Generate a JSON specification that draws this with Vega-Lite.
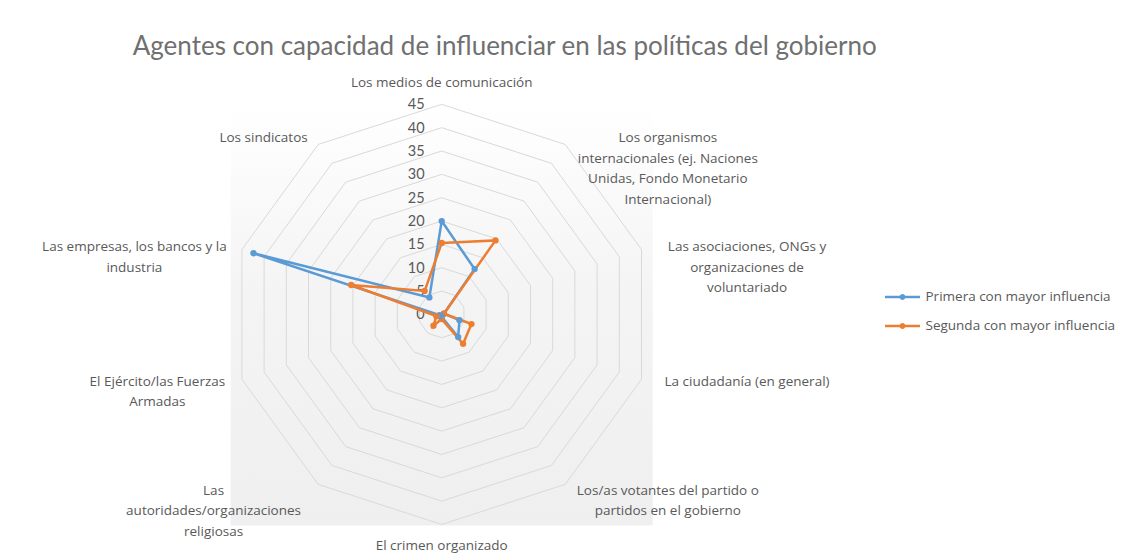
{
  "$schema": "https://vega.github.io/schema/vega-lite/v6.json",
  "width": 422,
  "height": 422,
  "autosize": {"type": "none"},
  "padding": {"left": 230.7, "top": 103.4, "right": 477.3, "bottom": 28.6},
  "background": "white",
  "config": {
    "view": {
      "stroke": null,
      "fill": {"gradient": "linear", "x1": 0, "y1": 0, "x2": 0, "y2": 1,
        "stops": [{"offset": 0, "color": "#ffffff"}, {"offset": 0.45, "color": "#f4f4f4"}, {"offset": 1, "color": "#efefef"}]}
    },
    "text": {"font": "Open Sans", "fontSize": 13.5, "color": "#595959", "lineHeight": 20.5, "lineBreak": "\n"}
  },
  "title": {
    "text": "Agentes con capacidad de influenciar en las políticas del gobierno",
    "font": "Lato", "fontSize": 26, "fontWeight": "normal", "color": "#707070",
    "anchor": "middle", "frame": "group", "dx": 63, "offset": 16
  },
  "datasets": {
    "main": [
      {"cat": "Los medios de comunicación", "serie": "Primera con mayor influencia", "v": 20},
      {"cat": "Los organismos\ninternacionales (ej. Naciones\nUnidas, Fondo Monetario\nInternacional)", "serie": "Primera con mayor influencia", "v": 12},
      {"cat": "Las asociaciones, ONGs y\norganizaciones de\nvoluntariado", "serie": "Primera con mayor influencia", "v": 0.5},
      {"cat": "La ciudadanía (en general)", "serie": "Primera con mayor influencia", "v": 4},
      {"cat": "Los/as votantes del partido o\npartidos en el gobierno", "serie": "Primera con mayor influencia", "v": 6},
      {"cat": "El crimen organizado", "serie": "Primera con mayor influencia", "v": 0.5},
      {"cat": "Las\nautoridades/organizaciones\nreligiosas", "serie": "Primera con mayor influencia", "v": 0.5},
      {"cat": "El Ejército/las Fuerzas\nArmadas", "serie": "Primera con mayor influencia", "v": 0.5},
      {"cat": "Las empresas, los bancos y la\nindustria", "serie": "Primera con mayor influencia", "v": 42.4},
      {"cat": "Los sindicatos", "serie": "Primera con mayor influencia", "v": 4.5},
      {"cat": "Los medios de comunicación", "serie": "Segunda con mayor influencia", "v": 15.3},
      {"cat": "Los organismos\ninternacionales (ej. Naciones\nUnidas, Fondo Monetario\nInternacional)", "serie": "Segunda con mayor influencia", "v": 19.6},
      {"cat": "Las asociaciones, ONGs y\norganizaciones de\nvoluntariado", "serie": "Segunda con mayor influencia", "v": 0.5},
      {"cat": "La ciudadanía (en general)", "serie": "Segunda con mayor influencia", "v": 6.7},
      {"cat": "Los/as votantes del partido o\npartidos en el gobierno", "serie": "Segunda con mayor influencia", "v": 7.8},
      {"cat": "El crimen organizado", "serie": "Segunda con mayor influencia", "v": 1},
      {"cat": "Las\nautoridades/organizaciones\nreligiosas", "serie": "Segunda con mayor influencia", "v": 3},
      {"cat": "El Ejército/las Fuerzas\nArmadas", "serie": "Segunda con mayor influencia", "v": 1.2},
      {"cat": "Las empresas, los bancos y la\nindustria", "serie": "Segunda con mayor influencia", "v": 20.4},
      {"cat": "Los sindicatos", "serie": "Segunda con mayor influencia", "v": 6.2}
    ],
    "grid": [
      {"level": 0, "k": [0,1,2,3,4,5,6,7,8,9]},
      {"level": 5, "k": [0,1,2,3,4,5,6,7,8,9]},
      {"level": 10, "k": [0,1,2,3,4,5,6,7,8,9]},
      {"level": 15, "k": [0,1,2,3,4,5,6,7,8,9]},
      {"level": 20, "k": [0,1,2,3,4,5,6,7,8,9]},
      {"level": 25, "k": [0,1,2,3,4,5,6,7,8,9]},
      {"level": 30, "k": [0,1,2,3,4,5,6,7,8,9]},
      {"level": 35, "k": [0,1,2,3,4,5,6,7,8,9]},
      {"level": 40, "k": [0,1,2,3,4,5,6,7,8,9]},
      {"level": 45, "k": [0,1,2,3,4,5,6,7,8,9]}
    ]
  },
  "layer": [
    {
      "data": {"name": "grid"},
      "transform": [
        {"flatten": ["k"]},
        {"filter": "datum.level > 0"},
        {"calculate": "datum.level * sin(datum.k * PI / 5)", "as": "x"},
        {"calculate": "datum.level * cos(datum.k * PI / 5)", "as": "y"}
      ],
      "mark": {"type": "line", "interpolate": "linear-closed", "color": "#d9d9d9", "strokeWidth": 1},
      "encoding": {
        "x": {"field": "x", "type": "quantitative", "scale": {"domain": [-45.2, 45.2], "nice": false, "zero": false}, "axis": null},
        "y": {"field": "y", "type": "quantitative", "scale": {"domain": [-45.2, 45.2], "nice": false, "zero": false}, "axis": null},
        "detail": {"field": "level", "type": "nominal"},
        "order": {"field": "k", "type": "quantitative"}
      }
    },
    {
      "data": {"name": "grid"},
      "transform": [
        {"calculate": "0", "as": "x"},
        {"calculate": "datum.level", "as": "y"}
      ],
      "mark": {"type": "text", "font": "Lato", "align": "right", "baseline": "middle", "dx": -17, "dy": 1, "fontSize": 14.5},
      "encoding": {
        "x": {"field": "x", "type": "quantitative"},
        "y": {"field": "y", "type": "quantitative"},
        "text": {"field": "level", "type": "quantitative"}
      }
    },
    {
      "data": {"name": "main"},
      "transform": [
        {"window": [{"op": "row_number", "as": "rn"}], "groupby": ["serie"]},
        {"calculate": "datum.v * sin((datum.rn - 1) * PI / 5)", "as": "x"},
        {"calculate": "datum.v * cos((datum.rn - 1) * PI / 5)", "as": "y"}
      ],
      "mark": {"type": "line", "interpolate": "linear-closed", "strokeWidth": 2.5, "point": {"filled": true, "size": 40}},
      "encoding": {
        "x": {"field": "x", "type": "quantitative"},
        "y": {"field": "y", "type": "quantitative"},
        "order": {"field": "rn", "type": "quantitative"},
        "color": {
          "field": "serie", "type": "nominal",
          "scale": {"domain": ["Primera con mayor influencia", "Segunda con mayor influencia"], "range": ["#5b9bd5", "#ed7d31"]},
          "legend": {
            "title": null, "orient": "none", "legendX": 661.8, "legendY": 183.6,
            "padding": 0, "rowPadding": 12,
            "symbolType": "M-1.75,-0.12L1.75,-0.12L1.75,0.12L-1.75,0.12ZM0.3,0A0.3,0.3,0,1,1,-0.3,0A0.3,0.3,0,1,1,0.3,0Z",
            "symbolSize": 400, "symbolStrokeWidth": 0, "labelOffset": 13,
            "labelFont": "Open Sans", "labelFontSize": 13.5, "labelColor": "#595959", "labelLimit": 300,
            "encode": {"symbols": {"update": {"fill": {"scale": "color", "field": "value"}, "strokeWidth": {"value": 0}}}}
          }
        }
      }
    },
    {
      "data": {"name": "main"},
      "transform": [
        {"window": [{"op": "row_number", "as": "rn"}], "groupby": ["serie"]},
        {"filter": "datum.serie == 'Primera con mayor influencia' && (datum.rn == 2 || datum.rn == 3 || datum.rn == 4 || datum.rn == 5)"},
        {"calculate": "46.7 * sin((datum.rn - 1) * PI / 5)", "as": "x"},
        {"calculate": "46.7 * cos((datum.rn - 1) * PI / 5)", "as": "y"}
      ],
      "mark": {"type": "text", "align": "center", "baseline": "middle", "dx": 98},
      "encoding": {
        "x": {"field": "x", "type": "quantitative"},
        "y": {"field": "y", "type": "quantitative"},
        "text": {"field": "cat", "type": "nominal"}
      }
    },
    {
      "data": {"name": "main"},
      "transform": [
        {"window": [{"op": "row_number", "as": "rn"}], "groupby": ["serie"]},
        {"filter": "datum.serie == 'Primera con mayor influencia' && (datum.rn == 7 || datum.rn == 9)"},
        {"calculate": "46.7 * sin((datum.rn - 1) * PI / 5)", "as": "x"},
        {"calculate": "46.7 * cos((datum.rn - 1) * PI / 5)", "as": "y"}
      ],
      "mark": {"type": "text", "align": "center", "baseline": "middle", "dx": -100},
      "encoding": {
        "x": {"field": "x", "type": "quantitative"},
        "y": {"field": "y", "type": "quantitative"},
        "text": {"field": "cat", "type": "nominal"}
      }
    },
    {
      "data": {"name": "main"},
      "transform": [
        {"window": [{"op": "row_number", "as": "rn"}], "groupby": ["serie"]},
        {"filter": "datum.serie == 'Primera con mayor influencia' && datum.rn == 8"},
        {"calculate": "46.7 * sin((datum.rn - 1) * PI / 5)", "as": "x"},
        {"calculate": "46.7 * cos((datum.rn - 1) * PI / 5)", "as": "y"}
      ],
      "mark": {"type": "text", "align": "center", "baseline": "middle", "dx": -77},
      "encoding": {
        "x": {"field": "x", "type": "quantitative"},
        "y": {"field": "y", "type": "quantitative"},
        "text": {"field": "cat", "type": "nominal"}
      }
    },
    {
      "data": {"name": "main"},
      "transform": [
        {"window": [{"op": "row_number", "as": "rn"}], "groupby": ["serie"]},
        {"filter": "datum.serie == 'Primera con mayor influencia' && datum.rn == 10"},
        {"calculate": "46.7 * sin((datum.rn - 1) * PI / 5)", "as": "x"},
        {"calculate": "46.7 * cos((datum.rn - 1) * PI / 5)", "as": "y"}
      ],
      "mark": {"type": "text", "align": "center", "baseline": "middle", "dx": -50},
      "encoding": {
        "x": {"field": "x", "type": "quantitative"},
        "y": {"field": "y", "type": "quantitative"},
        "text": {"field": "cat", "type": "nominal"}
      }
    },
    {
      "data": {"name": "main"},
      "transform": [
        {"window": [{"op": "row_number", "as": "rn"}], "groupby": ["serie"]},
        {"filter": "datum.serie == 'Primera con mayor influencia' && datum.rn == 1"},
        {"calculate": "46.7 * sin((datum.rn - 1) * PI / 5)", "as": "x"},
        {"calculate": "46.7 * cos((datum.rn - 1) * PI / 5)", "as": "y"}
      ],
      "mark": {"type": "text", "align": "center", "baseline": "middle", "dy": -13},
      "encoding": {
        "x": {"field": "x", "type": "quantitative"},
        "y": {"field": "y", "type": "quantitative"},
        "text": {"field": "cat", "type": "nominal"}
      }
    },
    {
      "data": {"name": "main"},
      "transform": [
        {"window": [{"op": "row_number", "as": "rn"}], "groupby": ["serie"]},
        {"filter": "datum.serie == 'Primera con mayor influencia' && datum.rn == 6"},
        {"calculate": "46.7 * sin((datum.rn - 1) * PI / 5)", "as": "x"},
        {"calculate": "46.7 * cos((datum.rn - 1) * PI / 5)", "as": "y"}
      ],
      "mark": {"type": "text", "align": "center", "baseline": "middle", "dy": 13.6},
      "encoding": {
        "x": {"field": "x", "type": "quantitative"},
        "y": {"field": "y", "type": "quantitative"},
        "text": {"field": "cat", "type": "nominal"}
      }
    }
  ]
}
